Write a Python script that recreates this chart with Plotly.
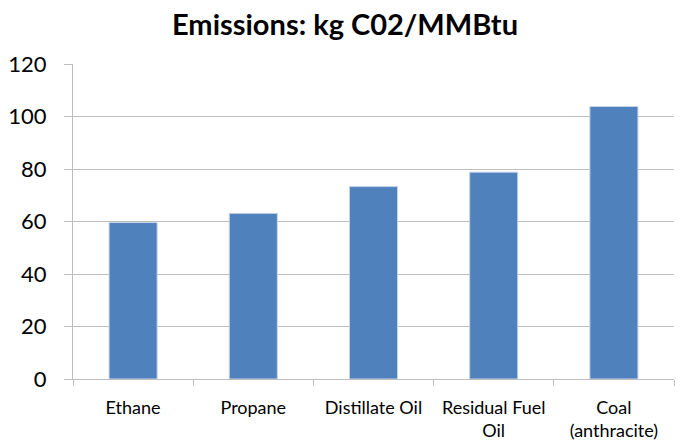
import plotly.graph_objects as go

categories = ["Ethane", "Propane", "Distillate Oil", "Residual Fuel<br>Oil", "Coal<br>(anthracite)"]
values = [59.6, 63.1, 73.3, 78.8, 103.8]
y_ticks = [0, 20, 40, 60, 80, 100, 120]

fig = go.Figure(go.Bar(x=categories, y=values, marker=dict(color="#4F81BD", line=dict(color="#C6D4E8", width=1))))

fig.update_layout(
    width=690, height=440,
    margin=dict(l=73, r=16, t=64, b=61),
    paper_bgcolor="white", plot_bgcolor="white",
    bargap=0.6,
    title=dict(text="<b>Emissions: kg C02/MMBtu</b>", x=0.5, xanchor="center", y=0.943, yanchor="middle",
               font=dict(family="Lato, Open Sans, sans-serif", size=29, color="black")),
    font=dict(family="Lato, Open Sans, sans-serif", color="black"),
    showlegend=False,
)
fig.update_yaxes(range=[0, 120], tickvals=y_ticks, showgrid=True, gridcolor="#BEBEBE", gridwidth=1,
                 showline=True, linecolor="#BEBEBE", ticks="outside", ticklen=8, tickcolor="#BEBEBE",
                 tickfont=dict(size=22), ticklabelstandoff=13, zeroline=False, automargin=False)
fig.update_xaxes(showline=True, linecolor="#BEBEBE", ticks="outside", tickson="boundaries", ticklen=6,
                 tickcolor="#BEBEBE", tickfont=dict(size=18), ticklabelstandoff=12, automargin=False)

fig.write_html("out.html", config={"displayModeBar": False}, post_script="document.body.style.margin='0';")
